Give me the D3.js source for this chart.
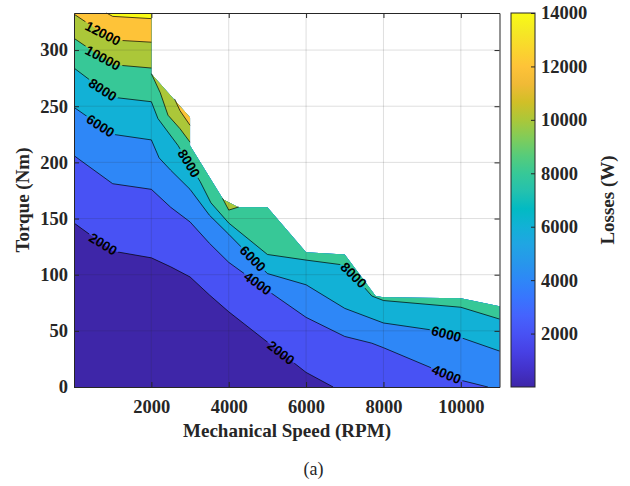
<!DOCTYPE html>
<html>
  <head>
    <meta charset="utf-8" />
    <title>Losses map</title>
    <style>
      html,
      body {
        margin: 0;
        padding: 0;
        background: #fff;
      }
      #svg {
        display: block;
      }
    </style>
  </head>
  <body>
    <svg id="svg" width="630" height="486"></svg>
    <script src="https://cdn.jsdelivr.net/npm/d3@7"></script>
    <script>
      // tick values
      const speedTicks = [2000, 4000, 6000, 8000, 10000];
      const torqueTicks = [0, 50, 100, 150, 200, 250, 300];
      const lossTicks = [2000, 4000, 6000, 8000, 10000, 12000, 14000];

      // max torque envelope [rpm, Nm]
      const envelope = [
        [0, 0], [0, 333], [2000, 333], [2000, 279], [3000, 240], [3000, 215],
        [3860, 167], [4250, 160], [5000, 160], [6000, 120], [7000, 118],
        [7800, 81], [8000, 80], [10000, 79], [11000, 72], [11000, 0]
      ];

      // iso-loss lines [rpm, Nm]
      const line2000 = [
        [0, 146], [1000, 121], [2000, 115], [2500, 107], [3000, 98], [3500, 82],
        [4000, 67], [6000, 13], [6700, 0]
      ];
      const line4000 = [
        [0, 206], [1000, 181], [2000, 176], [2500, 160], [3000, 147], [3500, 128],
        [4000, 111], [5000, 86], [6000, 62], [7000, 45], [7700, 39], [8000, 35],
        [10000, 6], [10700, 0]
      ];
      const line6000 = [
        [0, 249], [1000, 225], [2000, 220], [2200, 204], [2500, 193], [3000, 176],
        [3500, 153], [4000, 136], [5000, 101], [6000, 91], [7000, 70], [8000, 57],
        [9200, 51], [10000, 44], [11000, 32]
      ];
      const line8000 = [
        [0, 284], [1000, 258], [2000, 254], [2170, 239], [2430, 227], [2690, 215],
        [3260, 183], [3540, 164], [4000, 146], [5000, 118], [6000, 113],
        [7000, 108.5], [7700, 81], [8000, 77], [10000, 71], [11000, 60.5]
      ];
      const line10000a = [[0, 310.5], [1000, 287], [2000, 284]];
      const line10000b = [[2000, 279], [2230, 262], [2430, 242], [2740, 230], [3000, 218]];
      const line10000c = [[3840, 168], [4000, 157.5], [4260, 160.3]];
      const line12000a = [[0, 332], [1000, 309], [2000, 307]];
      const line12000b = [[2600, 256.5], [2740, 246], [3000, 233]];
      const line14000 = [[840, 333], [1000, 330], [2000, 328]];

      const contourLines = [
        { level: 2000, points: line2000 },
        { level: 4000, points: line4000 },
        { level: 6000, points: line6000 },
        { level: 8000, points: line8000 },
        { level: 10000, points: line10000a },
        { level: 10000, points: line10000b },
        { level: 10000, points: line10000c },
        { level: 12000, points: line12000a },
        { level: 12000, points: line12000b },
        { level: 14000, points: line14000 }
      ];

      // inline labels [rpm, Nm, level]
      const contourLabels = [
        [750, 315, 12000], [750, 293, 10000], [720, 264, 8000], [650, 231, 6000],
        [720, 126, 2000], [2970, 199, 8000], [4580, 113, 6000], [4700, 90, 4000],
        [5330, 30, 2000], [7210, 99, 8000], [9620, 46, 6000], [9620, 10, 4000]
      ];

      // parula colormap, every 3rd entry of the 64-entry table
      const parulaRGB = [
        [0.2422, 0.1504, 0.6603], [0.2647, 0.1978, 0.7952], [0.2783, 0.2559, 0.8991],
        [0.281, 0.3228, 0.9579], [0.2699, 0.3892, 0.9906], [0.2206, 0.4603, 0.9973],
        [0.1786, 0.5289, 0.9682], [0.154, 0.5902, 0.9218], [0.1248, 0.6459, 0.8883],
        [0.0689, 0.6948, 0.8394], [0.0067, 0.7312, 0.766], [0.1408, 0.7584, 0.6842],
        [0.2161, 0.7843, 0.5923], [0.3406, 0.8008, 0.4789], [0.5044, 0.7993, 0.348],
        [0.672, 0.7793, 0.2227], [0.8203, 0.7498, 0.1535], [0.9393, 0.7288, 0.21],
        [0.997, 0.7659, 0.2199], [0.9786, 0.8386, 0.1766], [0.9597, 0.9135, 0.1423],
        [0.9769, 0.9839, 0.0805]
      ];

      const lossMax = 14000;
      const parulaColors = parulaRGB.map((d) => d3.rgb(d[0] * 255, d[1] * 255, d[2] * 255).formatHex());
      const parula = d3
        .scaleLinear()
        .domain(parulaColors.map((d, i) => i / (parulaColors.length - 1)))
        .range(parulaColors)
        .clamp(true);

      const plotLeft = 74;
      const plotRight = 499.5;
      const plotTop = 13;
      const plotBottom = 387;
      const barLeft = 511;
      const barRight = 535;

      const xScale = d3.scaleLinear().domain([0, 11000]).range([plotLeft, plotRight]);
      const yScale = d3.scaleLinear().domain([0, 333]).range([plotBottom, plotTop]);
      const cScale = d3.scaleLinear().domain([0, lossMax]).range([plotBottom, plotTop]);

      const lineGen = d3
        .line()
        .x((d) => xScale(d[0]))
        .y((d) => yScale(d[1]));

      const svg = d3.select('#svg');
      const defs = svg.append('defs');

      defs
        .append('clipPath')
        .attr('id', 'envClip')
        .append('path')
        .attr('d', lineGen(envelope) + 'Z');

      const labelMask = defs
        .append('mask')
        .attr('id', 'labelMask')
        .attr('maskUnits', 'userSpaceOnUse')
        .attr('x', 0)
        .attr('y', 0)
        .attr('width', 630)
        .attr('height', 486);
      labelMask.append('rect').attr('width', 630).attr('height', 486).attr('fill', '#fff');

      // filled bands, painted from low to high level
      const fills = svg.append('g').attr('clip-path', 'url(#envClip)');
      fills
        .append('path')
        .attr('d', lineGen(envelope) + 'Z')
        .attr('fill', parula(0));

      const farSpeed = 11600;
      const farTorque = 400;
      contourLines.forEach((cl) => {
        const pts = cl.points;
        const first = pts[0];
        const last = pts[pts.length - 1];
        const poly = pts.concat([[farSpeed, last[1]], [farSpeed, farTorque], [first[0], farTorque]]);
        fills
          .append('path')
          .attr('d', lineGen(poly) + 'Z')
          .attr('fill', parula(cl.level / lossMax));
      });

      // grid
      const grid = svg.append('g').attr('stroke', '#262626').attr('stroke-opacity', 0.15).attr('stroke-width', 1);
      speedTicks.forEach((s) => {
        grid
          .append('line')
          .attr('x1', xScale(s))
          .attr('x2', xScale(s))
          .attr('y1', plotTop)
          .attr('y2', plotBottom);
      });
      torqueTicks
        .filter((t) => t > 0)
        .forEach((t) => {
          grid
            .append('line')
            .attr('x1', plotLeft)
            .attr('x2', plotRight)
            .attr('y1', yScale(t))
            .attr('y2', yScale(t));
        });

      // contour lines
      svg
        .append('g')
        .attr('mask', 'url(#labelMask)')
        .selectAll('path')
        .data(contourLines)
        .enter()
        .append('path')
        .attr('d', (d) => lineGen(d.points))
        .attr('fill', 'none')
        .attr('stroke', '#000')
        .attr('stroke-width', 0.7);

      // inline labels
      const densify = (pts, step) => {
        const out = [pts[0]];
        for (let i = 1; i < pts.length; i++) {
          const [x0, y0] = pts[i - 1];
          const [x1, y1] = pts[i];
          const n = Math.max(1, Math.ceil(Math.hypot(x1 - x0, y1 - y0) / step));
          for (let k = 1; k <= n; k++) out.push([x0 + ((x1 - x0) * k) / n, y0 + ((y1 - y0) * k) / n]);
        }
        return out;
      };

      const labelG = svg
        .append('g')
        .attr('font-family', '"Liberation Sans", Arial, Helvetica, sans-serif')
        .attr('font-weight', 'bold')
        .attr('font-size', 13.5)
        .attr('fill', '#000');

      contourLabels.forEach(([s, t, level]) => {
        const px = xScale(s);
        const py = yScale(t);
        let best = null;
        contourLines
          .filter((cl) => cl.level === level)
          .forEach((cl) => {
            const samples = densify(cl.points.map((p) => [xScale(p[0]), yScale(p[1])]), 0.5);
            samples.forEach((p, i) => {
              const dist = Math.hypot(p[0] - px, p[1] - py);
              if (!best || dist < best.dist) best = { dist, i, samples };
            });
          });

        const text = labelG.append('text').attr('text-anchor', 'middle').attr('dy', '0.35em').text(level);
        const len = text.node().getComputedTextLength();
        const half = len / 2 + 2;
        const smp = best.samples;
        const c = smp[best.i];
        let a = best.i;
        let b = best.i;
        let acc = 0;
        while (a > 0 && acc < half) {
          acc += Math.hypot(smp[a][0] - smp[a - 1][0], smp[a][1] - smp[a - 1][1]);
          a--;
        }
        acc = 0;
        while (b < smp.length - 1 && acc < half) {
          acc += Math.hypot(smp[b + 1][0] - smp[b][0], smp[b + 1][1] - smp[b][1]);
          b++;
        }
        let angle = (Math.atan2(smp[b][1] - smp[a][1], smp[b][0] - smp[a][0]) * 180) / Math.PI;
        if (angle > 90) angle -= 180;
        if (angle < -90) angle += 180;
        const tf = `translate(${c[0]},${c[1]}) rotate(${angle})`;
        text.attr('transform', tf);
        labelMask
          .append('rect')
          .attr('x', -half)
          .attr('y', -6.5)
          .attr('width', 2 * half)
          .attr('height', 13)
          .attr('fill', '#000')
          .attr('transform', tf);
      });

      // axes
      const axisStyle = (g) =>
        g
          .attr('font-family', '"Liberation Serif", "Times New Roman", serif')
          .attr('font-size', 18.5)
          .attr('font-weight', 'bold')
          .attr('color', '#262626');

      svg
        .append('g')
        .attr('transform', `translate(0,${plotBottom})`)
        .call(d3.axisBottom(xScale).tickValues(speedTicks).tickSizeInner(-5).tickSizeOuter(0).tickPadding(13).tickFormat(d3.format('d')))
        .call(axisStyle);
      svg
        .append('g')
        .attr('transform', `translate(0,${plotTop})`)
        .call(d3.axisTop(xScale).tickValues(speedTicks).tickSizeInner(-5).tickSizeOuter(0).tickFormat(''))
        .call(axisStyle);
      svg
        .append('g')
        .attr('transform', `translate(${plotLeft},0)`)
        .call(d3.axisLeft(yScale).tickValues(torqueTicks).tickSizeInner(-5).tickSizeOuter(0).tickPadding(6))
        .call(axisStyle);
      svg
        .append('g')
        .attr('transform', `translate(${plotRight},0)`)
        .call(d3.axisRight(yScale).tickValues(torqueTicks).tickSizeInner(-5).tickSizeOuter(0).tickFormat(''))
        .call(axisStyle);

      // colorbar
      const grad = defs
        .append('linearGradient')
        .attr('id', 'parulaGrad')
        .attr('x1', 0)
        .attr('y1', 1)
        .attr('x2', 0)
        .attr('y2', 0);
      grad
        .selectAll('stop')
        .data(parulaColors)
        .enter()
        .append('stop')
        .attr('offset', (d, i) => i / (parulaColors.length - 1))
        .attr('stop-color', (d) => d);

      svg
        .append('rect')
        .attr('x', barLeft)
        .attr('y', cScale(lossMax))
        .attr('width', barRight - barLeft)
        .attr('height', cScale(0) - cScale(lossMax))
        .attr('fill', 'url(#parulaGrad)')
        .attr('stroke', '#262626')
        .attr('stroke-width', 1);
      svg
        .append('g')
        .attr('transform', `translate(${barRight},0)`)
        .call(d3.axisRight(cScale).tickValues(lossTicks).tickSizeInner(-4).tickSizeOuter(0).tickPadding(6).tickFormat(d3.format('d')))
        .call(axisStyle)
        .call((g) => g.select('.domain').remove());

      // titles
      const titleStyle = (t) =>
        t
          .attr('font-family', '"Liberation Serif", "Times New Roman", serif')
          .attr('font-size', 19)
          .attr('font-weight', 'bold')
          .attr('fill', '#262626')
          .attr('text-anchor', 'middle');

      svg.append('text').attr('x', 287).attr('y', 437).text('Mechanical Speed (RPM)').call(titleStyle);
      svg.append('text').attr('transform', 'translate(29,200) rotate(-90)').text('Torque (Nm)').call(titleStyle);
      svg.append('text').attr('transform', 'translate(614,200) rotate(-90)').text('Losses (W)').call(titleStyle);
      svg
        .append('text')
        .attr('x', 313.5)
        .attr('y', 475)
        .attr('font-family', '"Liberation Serif", "Times New Roman", serif')
        .attr('font-size', 18)
        .attr('fill', '#262626')
        .attr('text-anchor', 'middle')
        .text('(a)');
    </script>
  </body>
</html>
